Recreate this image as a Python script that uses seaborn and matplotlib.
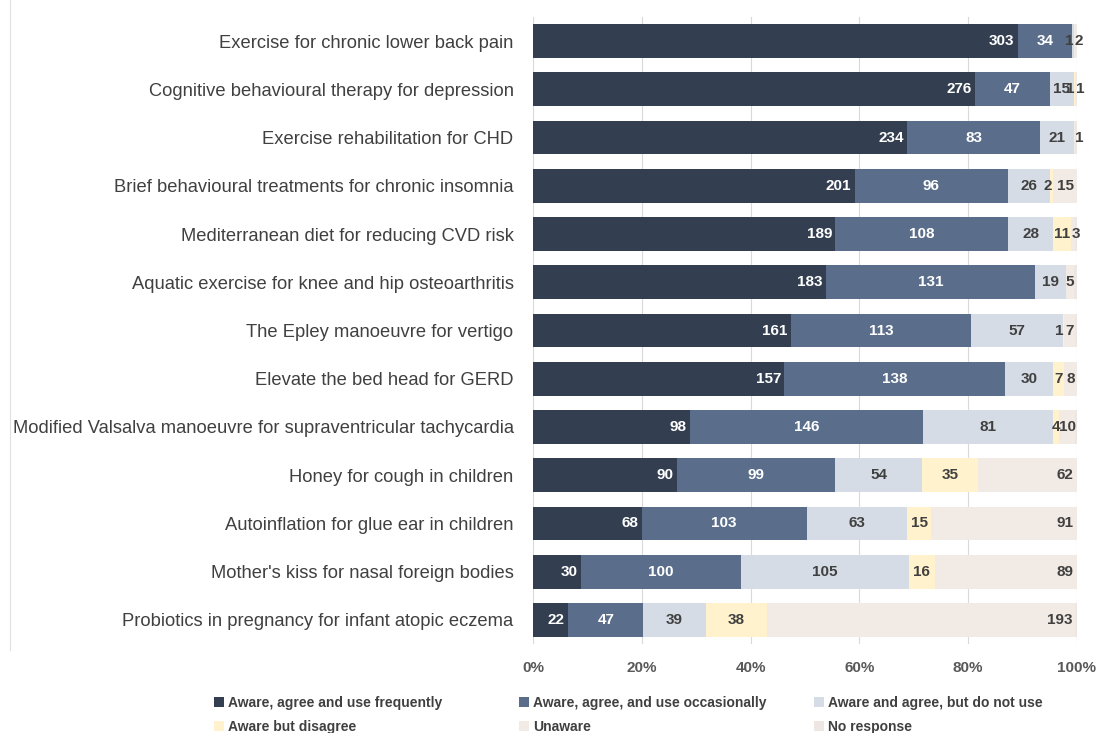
import numpy as np
import pandas as pd
import matplotlib
matplotlib.use('Agg')
import matplotlib.pyplot as plt
from matplotlib.patches import Patch
import seaborn as sns

# 数据: 各治疗方法的认知/使用情况 (人数)
categories = [
    'Exercise for chronic lower back pain',
    'Cognitive behavioural therapy for depression',
    'Exercise rehabilitation for CHD',
    'Brief behavioural treatments for chronic insomnia',
    'Mediterranean diet for reducing CVD risk',
    'Aquatic exercise for knee and hip osteoarthritis',
    'The Epley manoeuvre for vertigo',
    'Elevate the bed head for GERD',
    'Modified Valsalva manoeuvre for supraventricular tachycardia',
    'Honey for cough in children',
    'Autoinflation for glue ear in children',
    "Mother's kiss for nasal foreign bodies",
    'Probiotics in pregnancy for infant atopic eczema',
]
use_freq = [303, 276, 234, 201, 189, 183, 161, 157, 98, 90, 68, 30, 22]
use_occ = [34, 47, 83, 96, 108, 131, 113, 138, 146, 99, 103, 100, 47]
not_use = [1, 15, 21, 26, 28, 19, 57, 30, 81, 54, 63, 105, 39]
disagree = [0, 1, 0, 2, 11, 0, 1, 7, 4, 35, 15, 16, 38]
unaware = [2, 1, 1, 15, 3, 5, 7, 8, 10, 62, 91, 89, 193]
no_resp = [0, 0, 1, 0, 1, 2, 1, 0, 1, 0, 0, 0, 1]

series_names = ['Aware, agree and use frequently', 'Aware, agree, and use occasionally',
                'Aware and agree, but do not use', 'Aware but disagree', 'Unaware', 'No response']
series_vals = [use_freq, use_occ, not_use, disagree, unaware, no_resp]
colors = ['#333f50', '#5a6e8b', '#d6dce5', '#fff2cc', '#f2eae5', '#ede6e2']
label_colors = ['white', 'white', '#404040', '#404040', '#404040', None]

df = pd.DataFrame(dict(zip(series_names, series_vals)), index=categories)
pct = df.div(df.sum(axis=1), axis=0) * 100
cum = pct.cumsum(axis=1)

plt.rcParams['font.family'] = ['Liberation Sans', 'DejaVu Sans']
fig = plt.figure(figsize=(10.98, 7.33), dpi=100)
ax = fig.add_axes([533 / 1098, 1 - 644 / 733, 544 / 1098, 627 / 733])

# 从最长的累计值开始画，形成堆叠效果
for i in range(len(series_names) - 1, -1, -1):
    name = series_names[i]
    plot_df = pd.DataFrame({'cat': categories, 'val': cum[name].values})
    sns.barplot(data=plot_df, x='val', y='cat', orient='h', color=colors[i],
                saturation=1, width=0.7, ax=ax, zorder=3)

# 数值标签 (第一列和Unaware靠右，其余居中；很窄的段落稍微错开)
for i, name in enumerate(series_names[:5]):
    for j, cat in enumerate(categories):
        v = df.loc[cat, name]
        if v <= 0:
            continue
        p = pct.loc[cat, name]
        right = cum.loc[cat, name]
        left = right - p
        if i == 4 and p < 1:
            x, ha = left + 0.2, 'left'
        elif i in (2, 3) and p < 1:
            x, ha = right - 0.1, 'right'
        elif i in (0, 4) and p > 3.5:
            x, ha = right - 0.6, 'right'
        else:
            x, ha = (left + right) / 2, 'center'
        ax.text(x, j, str(v), ha=ha, va='center', fontsize=11, fontweight='bold',
                color=label_colors[i], zorder=5)

ax.set_xlim(0, 100)
ax.set_ylim(len(categories) - 0.5, -0.5)
ax.set_xticks([0, 20, 40, 60, 80, 100])
ax.set_xticklabels(['0%', '20%', '40%', '60%', '80%', '100%'], fontsize=11,
                   fontweight='bold', color='#595959')
ax.tick_params(axis='x', length=0, pad=12)
ax.tick_params(axis='y', length=0, pad=14, labelsize=13.2, labelcolor='#404040')
ax.set_xlabel('')
ax.set_ylabel('')
ax.grid(axis='x', color='#d9d9d9', linewidth=0.8, zorder=0)
ax.set_axisbelow(True)
for s in ax.spines.values():
    s.set_visible(False)

# 左侧细线
fig.add_artist(plt.Line2D([10 / 1098, 10 / 1098], [1 - 650 / 733, 1.0],
                          color='#e0e0e0', linewidth=0.8))

# 图例: 三列，按行排列
col_x = [214, 519, 814]
for k in range(3):
    idx = [k, k + 3]
    handles = [Patch(facecolor=colors[n], edgecolor='none') for n in idx]
    leg = fig.legend(handles, [series_names[n] for n in idx], loc='upper left',
                     bbox_to_anchor=(col_x[k] / 1098, 1 - 696 / 733), frameon=False,
                     handlelength=0.7, handleheight=0.7, handletextpad=0.3,
                     borderpad=0, borderaxespad=0, labelspacing=0.7,
                     prop={'weight': 'bold', 'size': 10})
    for t in leg.get_texts():
        t.set_color('#404040')

fig.savefig('out.png', dpi=100)
